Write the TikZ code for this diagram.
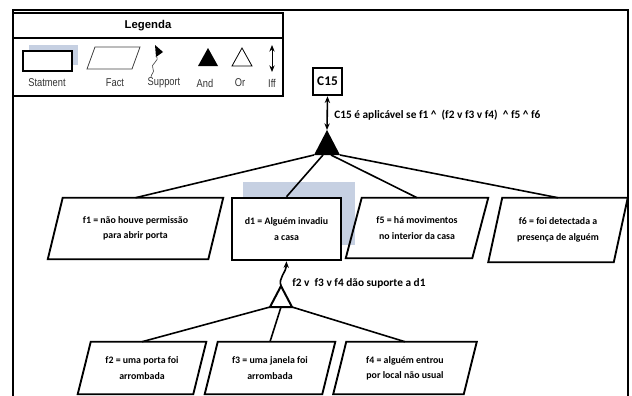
\documentclass[tikz,border=0pt]{standalone}
\usepackage{fontspec}
\setmainfont{Carlito}
\newfontfamily\legfont{Liberation Sans}
\usetikzlibrary{arrows.meta}
\definecolor{shadowblue}{RGB}{198,208,226}
\tikzset{
  px/.style={x=0.75pt,y=-0.75pt},
  conn/.style={line width=1.2pt},
  factbox/.style={draw=none, inner sep=0pt, align=center, font=\fontsize{7.4}{11.5}\selectfont\bfseries},
  parline/.style={line width=1.4pt, line join=miter},
  stmt/.style={draw, line width=1.9pt, inner sep=0pt, align=center},
  leglab/.style={font=\legfont\fontsize{8.5}{9}\selectfont, text=black!80, inner sep=0pt},
  lbl/.style={anchor=west, inner sep=0pt, font=\fontsize{8.5}{10}\selectfont\bfseries},
  tipend/.style={-{Stealth[length=5pt,width=4pt]}},
  tipboth/.style={{Stealth[length=5pt,width=4pt]}-{Stealth[length=5pt,width=4pt]}},
}
\newcommand\paral[2]{\draw[parline] ([xshift=#2]#1.north west) -- ([xshift=#2]#1.north east) -- ([xshift=-#2]#1.south east) -- ([xshift=-#2]#1.south west) -- cycle;}
\newcommand\hsq[1]{\scalebox{0.82}[1]{#1}}
\begin{document}
\begin{tikzpicture}[px]
\useasboundingbox (0,0) rectangle (632,396);
% frame
\draw[line width=1.5pt] (13,400) -- (13,10) -- (628,10) -- (628,400);

% legend
\draw[line width=1.6pt] (13,13) rectangle (283,96);
\draw[line width=1.3pt] (13,38) -- (283,38);
\node[inner sep=0pt, font=\legfont\bfseries\fontsize{8.5}{9}\selectfont] (legtitle) at (148,25.5) {Legenda};
% statement symbol
\fill[shadowblue] (29,45) rectangle (78,65);
\draw[fill=white, line width=0.9pt] (23,51) rectangle (72,71);
% fact symbol
\draw[line width=0.6pt, black!75] (95,47) -- (140,47) -- (132,69) -- (87,69) -- cycle;
% support symbol
\fill (155,45) -- (163,52) -- (156,57) -- cycle;
\draw[line width=0.5pt, black!70] (156,56) .. controls (161,61) and (149,64) .. (153,69) .. controls (155,72) and (151,74) .. (151,77);
% and / or
\fill (198,66) -- (208,48) -- (218,66) -- cycle;
\draw[line width=0.6pt] (232,66) -- (242,48) -- (252,66) -- cycle;
% iff
\coordinate (iffT) at (272,45);
\coordinate (iffB) at (272,72);
\draw[line width=0.7pt, {Stealth[length=5pt,width=4pt]}-{Stealth[length=5pt,width=4pt]}] (iffT) -- (iffB);
\node[leglab] (lStat) at (47,83) {\hsq{Statment}};
\node[leglab] (lFact) at (115,83) {\hsq{Fact}};
\node[leglab] (lSup) at (164,83) {\hsq{Support}};
\node[leglab] (lAnd) at (205,83) {\hsq{And}};
\node[leglab] (lOr) at (240,83) {\hsq{Or}};
\node[leglab] (lIff) at (272,83) {\hsq{Iff}};

% C15
\node[stmt, minimum width=21.75pt, minimum height=20.25pt, font=\fontsize{10}{12}\selectfont\bfseries] (c15) at (327.5,81.5) {C15};
\node[lbl] (rule) at (334,115) {C15 é aplicável se f1 \textasciicircum\ \ (f2 v f3 v f4)\ \ \textasciicircum\ f5 \textasciicircum\ f6};

% AND gate
\coordinate (andA) at (327,130);
\coordinate (andL) at (314,155);
\coordinate (andR) at (340,155);
\coordinate (andM1) at (323,155);
\coordinate (andM2) at (331,155);
\fill (andA) -- (andL) -- (andR) -- cycle;
\draw[conn, tipboth] (c15.south) -- (andA);

% d1 shadow
\fill[shadowblue] (243,182) rectangle (355,245);

% level-1 nodes
\node[factbox, minimum width=120pt, minimum height=45.75pt] (f1) at (135.5,228.5) {f1 = não houve permissão\\para abrir porta};
\paral{f1}{5.6pt}
\node[stmt, fill=white, minimum width=81.75pt, minimum height=46.5pt, font=\fontsize{7.4}{11.5}\selectfont\bfseries] (d1) at (286.5,229) {d1 = Alguém invadiu\\a casa};
\node[factbox, minimum width=94.5pt, minimum height=45pt] (f5) at (417,228) {f5 = há movimentos\\no interior da casa};
\paral{f5}{6pt}
\node[factbox, minimum width=93.75pt, minimum height=48pt] (f6) at (558,230) {f6 = foi detectada a\\presença de alguém};
\paral{f6}{5.25pt}

\draw[conn] (andL) -- (f1.north);
\draw[conn] (andM1) -- (d1.north);
\draw[conn] (andM2) -- (f5.north);
\draw[conn] (andR) -- (f6.north);

% OR gate
\coordinate (orA) at (281,286);
\coordinate (orL) at (270,307);
\coordinate (orR) at (292,307);
\coordinate (orM) at (281,307);
\draw[line width=1.5pt, fill=white] (orA) -- (orL) -- (orR) -- cycle;
\draw[conn, tipend] (orA) .. controls (278,278) and (286,273) .. (d1.south);
\node[lbl] (suplbl) at (292,283) {f2 v\ \ f3 v f4 dão suporte a d1};

% level-2 nodes
\node[factbox, minimum width=86.25pt, minimum height=39pt] (f2) at (142,368) {f2 = uma porta foi\\arrombada};
\paral{f2}{4.9pt}
\node[factbox, minimum width=87.75pt, minimum height=39pt] (f3) at (270,368) {f3 = uma janela foi\\arrombada};
\paral{f3}{4.9pt}
\node[factbox, minimum width=97.5pt, minimum height=39pt] (f4) at (405,368) {f4 = alguém entrou\\por local não usual};
\paral{f4}{4.9pt}

\draw[conn] (orL) -- (f2.north);
\draw[conn] (orM) -- (f3.north);
\draw[conn] (orR) -- (f4.north);
\end{tikzpicture}
\end{document}
